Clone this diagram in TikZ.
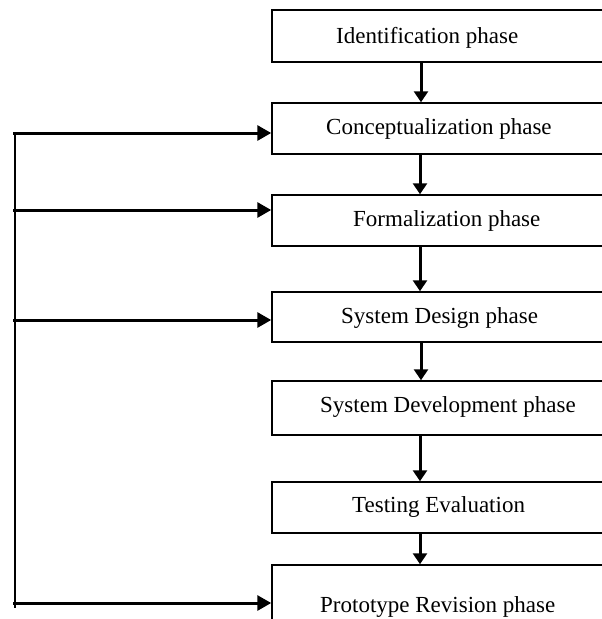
\documentclass[tikz,border=0pt]{standalone}
\usepackage{fontspec}
\setmainfont{Liberation Serif}
\usetikzlibrary{arrows.meta}

\tikzset{
  phase/.style={draw, line width=1.5pt, rectangle, minimum width=360pt, inner sep=0pt},
  phasetext/.style={anchor=base west, inner sep=0pt, font=\fontsize{23}{28}\selectfont},
  flow/.style={line width=3pt, -{Triangle[width=14pt,length=11pt]}},
  feed/.style={line width=3pt, -{Triangle[width=15pt,length=14pt]}}
}

\begin{document}
\begin{tikzpicture}[x=1pt, y=-1pt]
    \clip (0,0) rectangle (602,619);

    % phase boxes
    \node [phase, minimum height=52pt] (ident)   at (452,36)    {};
    \node [phase, minimum height=51pt] (concept) at (452,128.5) {};
    \node [phase, minimum height=51pt] (formal)  at (452,220.5) {};
    \node [phase, minimum height=50pt] (design)  at (452,317)   {};
    \node [phase, minimum height=54pt] (develop) at (452,408)   {};
    \node [phase, minimum height=51pt] (testing) at (452,507.5) {};
    \node [phase, minimum height=80pt] (proto)   at (452,605)   {};

    % box texts
    \node [phasetext] (identtext)   at (336,43)  {Identification phase};
    \node [phasetext] (concepttext) at (326,134) {Conceptualization phase};
    \node [phasetext] (formaltext)  at (353,226) {Formalization phase};
    \node [phasetext] (designtext)  at (341,323) {System Design phase};
    \node [phasetext] (developtext) at (320,412) {System Development phase};
    \node [phasetext] (testingtext) at (352,512) {Testing Evaluation};
    \node [phasetext] (prototext)   at (320,612) {Prototype Revision phase};

    % main flow
    \draw[flow] ([xshift=-31pt]ident.south)   -- ([xshift=-31pt]concept.north);
    \draw[flow] ([xshift=-32pt]concept.south) -- ([xshift=-32pt]formal.north);
    \draw[flow] ([xshift=-32pt]formal.south)  -- ([xshift=-32pt]design.north);
    \draw[flow] ([xshift=-31pt]design.south)  -- ([xshift=-31pt]develop.north);
    \draw[flow] ([xshift=-32pt]develop.south) -- ([xshift=-32pt]testing.north);
    \draw[flow] ([xshift=-32pt]testing.south) -- ([xshift=-32pt]proto.north);

    % feedback line
    \coordinate (fbtop) at (15,133);
    \coordinate (fbbot) at (15,608);
    \draw[line width=2pt] (fbtop) -- (fbbot);

    \coordinate (fb1) at (13,133);
    \coordinate (fb2) at (13,210);
    \coordinate (fb3) at (13,320);
    \coordinate (fb4) at (13,603);
    \draw[feed] (fb1) -- (fb1 -| concept.west);
    \draw[feed] (fb2) -- (fb2 -| formal.west);
    \draw[feed] (fb3) -- (fb3 -| design.west);
    \draw[feed] (fb4) -- (fb4 -| proto.west);
\end{tikzpicture}
\end{document}
